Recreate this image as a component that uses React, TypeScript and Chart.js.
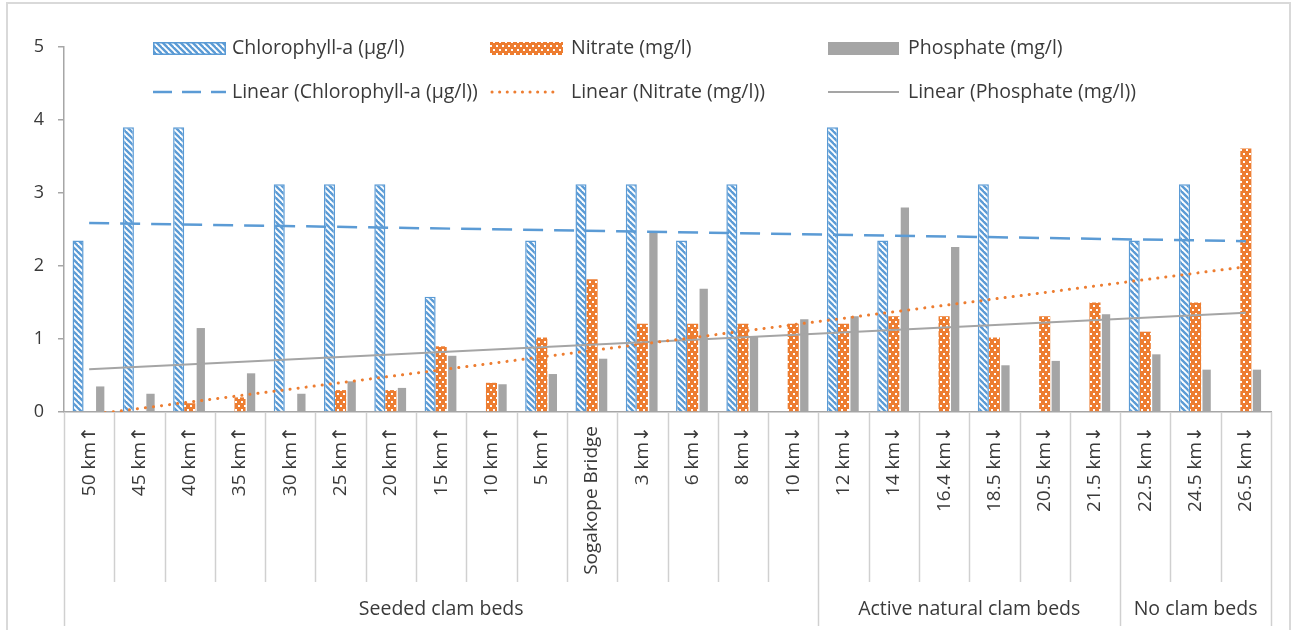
import React, { useEffect, useRef } from 'react';
import { Chart, registerables } from 'chart.js';

Chart.register(...registerables);

const categories = [
  '50 km↑', '45 km↑', '40 km↑', '35 km↑', '30 km↑', '25 km↑', '20 km↑', '15 km↑', '10 km↑', '5 km↑',
  'Sogakope Bridge', '3 km↓', '6 km↓', '8 km↓', '10 km↓',
  '12 km↓', '14 km↓', '16.4 km↓', '18.5 km↓', '20.5 km↓', '21.5 km↓',
  '22.5 km↓', '24.5 km↓', '26.5 km↓',
];
const groupLabels = ['Seeded clam beds', 'Active natural clam beds', 'No clam beds'];
const groupSizes = [15, 6, 3];

const chlorophyll = [2.35, 3.9, 3.9, null, 3.12, 3.12, 3.12, 1.58, null, 2.35, 3.12, 3.12, 2.35, 3.12, null, 3.9, 2.35, null, 3.12, null, null, 2.35, 3.12, null];
const nitrate = [null, null, 0.12, 0.2, null, 0.3, 0.3, 0.9, 0.4, 1.02, 1.82, 1.21, 1.21, 1.21, 1.21, 1.21, 1.31, 1.31, 1.02, 1.31, 1.5, 1.1, 1.5, 3.61];
const phosphate = [0.35, 0.25, 1.15, 0.53, 0.25, 0.42, 0.33, 0.77, 0.38, 0.52, 0.73, 2.47, 1.69, 1.03, 1.27, 1.31, 2.8, 2.26, 0.64, 0.7, 1.34, 0.79, 0.58, 0.58];

const chlTrend = [2.59, null, null, null, null, null, null, null, null, null, null, null, null, null, null, null, null, null, null, null, null, null, null, 2.34];
const nitTrend = [-0.04, null, null, null, null, null, null, null, null, null, null, null, null, null, null, null, null, null, null, null, null, null, null, 1.99];
const phoTrend = [0.585, null, null, null, null, null, null, null, null, null, null, null, null, null, null, null, null, null, null, null, null, null, null, 1.36];

const legendLabels = [
  'Chlorophyll-a (µg/l)', 'Nitrate (mg/l)', 'Phosphate (mg/l)',
  'Linear (Chlorophyll-a (µg/l))', 'Linear (Nitrate (mg/l))', 'Linear (Phosphate (mg/l))',
];

const BLUE = '#5B9BD5';
const ORANGE = '#ED7D31';
const GREY = '#A5A5A5';
const TEXT = '#3A3A3A';
const AXIS = '#A6A6A6';
const SEP = '#D0D0D0';
const FAMILY = '"Open Sans", "DejaVu Sans", sans-serif';

function makeHatch(): CanvasPattern {
  const c = document.createElement('canvas');
  c.width = 6; c.height = 6;
  const g = c.getContext('2d')!;
  g.fillStyle = '#ffffff';
  g.fillRect(0, 0, 6, 6);
  g.strokeStyle = BLUE;
  g.lineWidth = 2.4;
  for (const k of [-6, 0, 6]) {
    g.beginPath();
    g.moveTo(k - 1, -1);
    g.lineTo(k + 7, 7);
    g.stroke();
  }
  return g.createPattern(c, 'repeat')!;
}

function makeDots(): CanvasPattern {
  const c = document.createElement('canvas');
  c.width = 6; c.height = 8;
  const g = c.getContext('2d')!;
  g.fillStyle = ORANGE;
  g.fillRect(0, 0, 6, 8);
  g.fillStyle = '#ffffff';
  g.fillRect(1, 1, 2, 2);
  g.fillRect(4, 5, 2, 2);
  return g.createPattern(c, 'repeat')!;
}

export default function App() {
  const ref = useRef<HTMLCanvasElement>(null);

  useEffect(() => {
    document.body.style.margin = '0';
    const canvas = ref.current!;
    const hatch = makeHatch();
    const dots = makeDots();

    const decor = {
      id: 'decor',
      beforeDraw(chart: any) {
        const ctx = chart.ctx;
        ctx.save();
        ctx.fillStyle = '#ffffff';
        ctx.fillRect(0, 0, chart.width, chart.height);
        ctx.strokeStyle = '#D9D9D9';
        ctx.lineWidth = 2;
        ctx.strokeRect(7, 3, chart.width - 10, chart.height + 20);
        ctx.restore();
      },
      afterDraw(chart: any) {
        const ctx = chart.ctx;
        const xs = chart.scales.x;
        const area = chart.chartArea;
        const n = categories.length;
        const step = xs.getPixelForValue(1) - xs.getPixelForValue(0);
        const edge = (i: number) => xs.getPixelForValue(0) - step / 2 + i * step;
        const base = area.bottom;
        const bounds: number[] = [0];
        groupSizes.forEach((s) => bounds.push(bounds[bounds.length - 1] + s));
        ctx.save();
        ctx.strokeStyle = SEP;
        ctx.lineWidth = 1.5;
        for (let i = 0; i <= n; i++) {
          const isLong = bounds.includes(i);
          const x = Math.round(edge(i)) + 0.5;
          ctx.beginPath();
          ctx.moveTo(x, base);
          ctx.lineTo(x, isLong ? 626 : 582);
          ctx.stroke();
        }
        ctx.fillStyle = TEXT;
        ctx.font = `19.5px ${FAMILY}`;
        ctx.textAlign = 'center';
        ctx.textBaseline = 'middle';
        groupLabels.forEach((lab, gi) => {
          const cx = (edge(bounds[gi]) + edge(bounds[gi + 1])) / 2;
          ctx.fillText(lab, cx, 609);
        });

        // legend
        const boxX = [153, 490, 828];
        const boxW = [73, 73, 71];
        const textX = [232, 571, 908];
        const row1 = 48;
        const row2 = 92;
        ctx.font = `19.5px ${FAMILY}`;
        ctx.textAlign = 'left';
        ctx.textBaseline = 'middle';
        ctx.fillStyle = hatch;
        ctx.fillRect(boxX[0], row1 - 6, boxW[0], 13);
        ctx.strokeStyle = BLUE;
        ctx.lineWidth = 1.5;
        ctx.strokeRect(boxX[0] + 0.75, row1 - 5.25, boxW[0] - 1.5, 11.5);
        ctx.fillStyle = dots;
        ctx.fillRect(boxX[1], row1 - 6, boxW[1], 13);
        ctx.fillStyle = GREY;
        ctx.fillRect(boxX[2], row1 - 6, boxW[2], 13);
        ctx.lineWidth = 2.5;
        ctx.strokeStyle = BLUE;
        ctx.setLineDash([19, 10]);
        ctx.beginPath();
        ctx.moveTo(boxX[0], row2); ctx.lineTo(boxX[0] + boxW[0], row2); ctx.stroke();
        ctx.strokeStyle = ORANGE;
        ctx.lineWidth = 3;
        ctx.lineCap = 'round';
        ctx.setLineDash([0.1, 7.5]);
        ctx.beginPath();
        ctx.moveTo(boxX[1] + 2, row2); ctx.lineTo(boxX[1] + 68, row2); ctx.stroke();
        ctx.lineCap = 'butt';
        ctx.setLineDash([]);
        ctx.strokeStyle = GREY;
        ctx.lineWidth = 2;
        ctx.beginPath();
        ctx.moveTo(boxX[2], row2); ctx.lineTo(boxX[2] + boxW[2], row2); ctx.stroke();
        ctx.fillStyle = TEXT;
        for (let i = 0; i < 3; i++) {
          ctx.fillText(legendLabels[i], textX[i], row1);
          ctx.fillText(legendLabels[i + 3], textX[i], row2);
        }
        ctx.restore();
      },
    };

    const chart = new Chart(canvas, {
      type: 'bar',
      data: {
        labels: categories,
        datasets: [
          {
            type: 'line', label: legendLabels[3], data: chlTrend as any, borderColor: BLUE, borderWidth: 2.5,
            borderDash: [20, 11], pointRadius: 0, spanGaps: true, fill: false, order: 0,
          },
          {
            type: 'line', label: legendLabels[4], data: nitTrend as any, borderColor: ORANGE, borderWidth: 3,
            borderDash: [0.1, 8], borderCapStyle: 'round', pointRadius: 0, spanGaps: true, fill: false, order: 0,
          },
          {
            type: 'line', label: legendLabels[5], data: phoTrend as any, borderColor: GREY, borderWidth: 2,
            pointRadius: 0, spanGaps: true, fill: false, order: 0,
          },
          {
            type: 'bar', label: legendLabels[0], data: chlorophyll as any, backgroundColor: hatch as any,
            borderColor: BLUE, borderWidth: 1.5, categoryPercentage: 0.66, barPercentage: 1, order: 1,
          },
          {
            type: 'bar', label: legendLabels[1], data: nitrate as any, backgroundColor: dots as any,
            borderWidth: 0, categoryPercentage: 0.66, barPercentage: 1, order: 1,
          },
          {
            type: 'bar', label: legendLabels[2], data: phosphate as any, backgroundColor: GREY,
            borderWidth: 0, categoryPercentage: 0.66, barPercentage: 0.75, order: 1,
          },
        ] as any,
      },
      options: {
        responsive: false,
        animation: false,
        layout: { padding: { top: 47, right: 22, left: 0, bottom: 0 } },
        plugins: { legend: { display: false }, tooltip: { enabled: false } },
        scales: {
          x: {
            grid: { display: false, drawTicks: false },
            border: { display: true, color: AXIS, width: 1.5 },
            ticks: {
              autoSkip: false, maxRotation: 90, minRotation: 90, padding: 14,
              color: TEXT, font: { family: FAMILY, size: 19 },
            },
            afterFit: (s: any) => { s.height = 218; },
          },
          y: {
            min: 0, max: 5,
            ticks: { stepSize: 1, padding: 14, color: TEXT, font: { family: FAMILY, size: 18 } },
            grid: { drawOnChartArea: false, drawTicks: true, tickLength: 6, color: AXIS, lineWidth: 1.5 },
            border: { display: true, color: AXIS, width: 1.5 },
            afterFit: (s: any) => { s.width = 64; },
          },
        },
      } as any,
      plugins: [decor],
    });

    return () => chart.destroy();
  }, []);

  return (
    <div style={{ position: 'absolute', left: 0, top: 0, width: 1293, height: 630 }}>
      <canvas ref={ref} width={1293} height={630} />
    </div>
  );
}
